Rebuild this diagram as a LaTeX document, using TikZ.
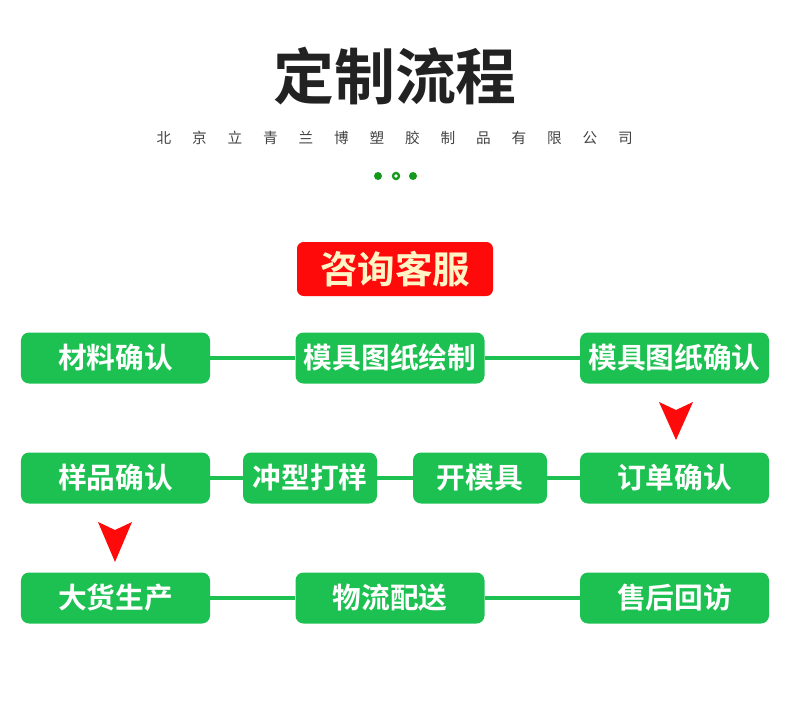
\documentclass[tikz,border=0pt]{standalone}
\usepackage{fontspec}
\setmainfont{Noto Sans CJK SC}
\newfontfamily\cjkbold[BoldFont={Noto Sans CJK SC Bold}]{Noto Sans CJK SC}
\usetikzlibrary{positioning}
\definecolor{leaf}{HTML}{1DC152}
\definecolor{dotgreen}{HTML}{15991A}
\definecolor{alarm}{HTML}{FF0A0A}
\definecolor{cream}{HTML}{FFF4C6}
\definecolor{ink}{HTML}{222222}
\tikzset{
  flowbox/.style={fill=leaf, rounded corners=0.24cm, minimum width=5.67cm, minimum height=1.53cm, inner sep=0pt, text=white, font=\cjkbold\bfseries\fontsize{24.5}{26}\selectfont},
  shortbox/.style={flowbox, minimum width=4.02cm},
  hotbox/.style={fill=alarm, rounded corners=0.2cm, minimum width=5.88cm, minimum height=1.62cm, inner sep=0pt, text=cream, font=\cjkbold\bfseries\fontsize{32}{34}\selectfont},
  link/.style={leaf, line width=4.2pt},
  downmark/.style={fill=alarm}
}
\begin{document}
\begin{tikzpicture}[x=0.03cm,y=-0.03cm]
  \useasboundingbox (0,0) rectangle (790,700);
  % heading
  \node[text=ink, font=\cjkbold\bfseries\fontsize{52}{56}\selectfont] (title) at (395,76) {定制流程};
  \foreach \c [count=\i from 0] in {北,京,立,青,兰,博,塑,胶,制,品,有,限,公,司}
    \node[text=ink!85, font=\fontsize{12.5}{13}\selectfont] (sub\i) at ({164+\i*35.5},138) {\c};
  \fill[dotgreen] (378,176) circle (4);
  \draw[dotgreen, line width=2pt] (396,176) circle (3);
  \fill[dotgreen] (413,176) circle (4);
  % start
  \node[hotbox] (ask) at (395,269) {咨询客服};
  % row 1
  \node[flowbox] (mat) at (115.5,358) {材料确认};
  \node[flowbox] (draw) at (390,358) {模具图纸绘制};
  \node[flowbox] (chk) at (674.5,358) {模具图纸确认};
  % row 2
  \node[flowbox] (smp) at (115.5,478) {样品确认};
  \node[shortbox] (punch) at (310,478) {冲型打样};
  \node[shortbox] (mold) at (480,478) {开模具};
  \node[flowbox] (order) at (674.5,478) {订单确认};
  % row 3
  \node[flowbox] (mass) at (115.5,598) {大货生产};
  \node[flowbox] (ship) at (390,598) {物流配送};
  \node[flowbox] (after) at (674.5,598) {售后回访};
  % connectors
  \draw[link] (mat) -- (draw);
  \draw[link] (draw) -- (chk);
  \draw[link] (smp) -- (punch);
  \draw[link] (punch) -- (mold);
  \draw[link] (mold) -- (order);
  \draw[link] (mass) -- (ship);
  \draw[link] (ship) -- (after);
  % red arrows
  \coordinate (tipa) at (676,440);
  \coordinate (tipb) at (115,562);
  \fill[downmark] (tipa) -- ++(-17,-38) -- ++(17,8) -- ++(17,-8) -- cycle;
  \fill[downmark] (tipb) -- ++(-17,-40) -- ++(17,8) -- ++(17,-8) -- cycle;
\end{tikzpicture}
\end{document}
